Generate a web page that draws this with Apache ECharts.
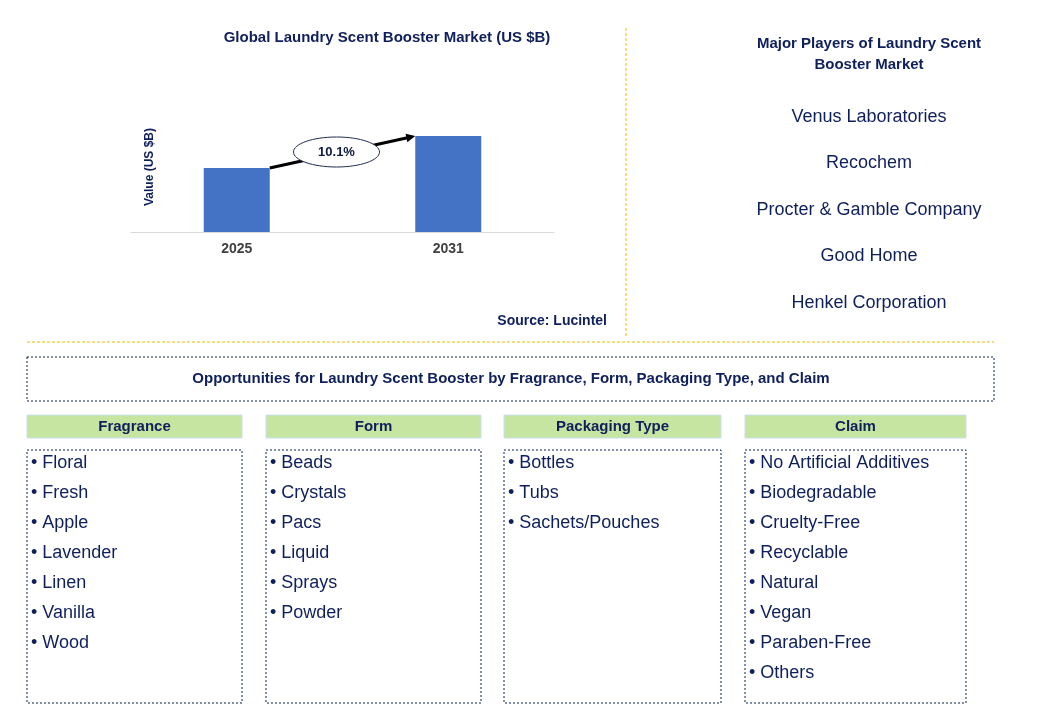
<!DOCTYPE html>
<html>
<head>
<meta charset="utf-8">
<script src="https://cdn.jsdelivr.net/npm/echarts@6/dist/echarts.min.js"></script>
<style>html,body{margin:0;padding:0;background:#fff}#main{width:1046px;height:714px}</style>
</head>
<body>
<div id="main"></div>
<script>
// chart data
var years = ['2025', '2031']
var marketValues = [2.0, 3.0]
var cagrLabel = '10.1%'
var players = ['Venus Laboratories', 'Recochem', 'Procter & Gamble Company', 'Good Home', 'Henkel Corporation']
var segmentTitles = ['Fragrance', 'Form', 'Packaging Type', 'Claim']
var fragranceItems = ['Floral', 'Fresh', 'Apple', 'Lavender', 'Linen', 'Vanilla', 'Wood']
var formItems = ['Beads', 'Crystals', 'Pacs', 'Liquid', 'Sprays', 'Powder']
var packagingItems = ['Bottles', 'Tubs', 'Sachets/Pouches']
var claimItems = ['No Artificial Additives', 'Biodegradable', 'Cruelty-Free', 'Recyclable', 'Natural', 'Vegan', 'Paraben-Free', 'Others']

var navy = '#0f1f5c'
var font = 'Arial, "Liberation Sans", sans-serif'
var chart = echarts.init(document.getElementById('main'))

var option = {
  animation: false,
  grid: { left: 131, width: 423, top: 136, height: 96 },
  xAxis: {
    type: 'category', data: years,
    axisLine: { lineStyle: { color: '#d9d9d9' } },
    axisTick: { show: false },
    axisLabel: { color: '#404040', fontWeight: 'bold', fontSize: 14, fontFamily: font, margin: 10 }
  },
  yAxis: { type: 'value', min: 0, max: 3.0, show: false },
  series: [{ type: 'bar', data: marketValues, barWidth: 66, itemStyle: { color: '#4472c4' } }],
  graphic: []
}
chart.setOption(option)

var g = []
function txt(x, y, s, size, bold, align, color) {
  g.push({ type: 'text', x: x, y: y, style: { text: s, fill: color || navy, font: (bold ? 'bold ' : '') + size + 'px ' + font, textAlign: align || 'left', textVerticalAlign: 'middle' } })
}
function dashRect(x, y, w, h) {
  g.push({ type: 'rect', shape: { x: x, y: y, width: w, height: h }, style: { fill: 'none', stroke: navy, lineWidth: 1, lineDash: [2, 2] } })
}

txt(387, 38, 'Global Laundry Scent Booster Market (US $B)', 15, true, 'center')
g.push({ type: 'text', x: 150, y: 167, rotation: Math.PI / 2, style: { text: 'Value (US $B)', fill: navy, font: 'bold 12px ' + font, textAlign: 'center', textVerticalAlign: 'middle' } })
txt(607, 321, 'Source: Lucintel', 14, true, 'right')

// arrow from top of first bar to top of second bar
var p1 = chart.convertToPixel({ seriesIndex: 0 }, [0, marketValues[0]])
var p2 = chart.convertToPixel({ seriesIndex: 0 }, [1, marketValues[1]])
var x1 = p1[0] + 33, y1 = p1[1], x2 = p2[0] - 33, y2 = p2[1]
var ang = Math.atan2(y2 - y1, x2 - x1)
g.push({ type: 'line', shape: { x1: x1, y1: y1, x2: x2 - 8 * Math.cos(ang), y2: y2 - 8 * Math.sin(ang) }, style: { stroke: '#000', lineWidth: 3 } })
g.push({ type: 'polygon', shape: { points: [[x2, y2], [x2 - 10 * Math.cos(ang - 0.45), y2 - 10 * Math.sin(ang - 0.45)], [x2 - 10 * Math.cos(ang + 0.45), y2 - 10 * Math.sin(ang + 0.45)]] }, style: { fill: '#000' } })
var mx = (x1 + x2) / 2 - 6, my = (y1 + y2) / 2
g.push({ type: 'ellipse', shape: { cx: mx, cy: my, rx: 43, ry: 15 }, style: { fill: '#fff', stroke: '#1f2d4f', lineWidth: 1 } })
txt(mx, my, cagrLabel, 13, true, 'center', '#0d1a3d')

// separators
g.push({ type: 'line', shape: { x1: 626, y1: 28, x2: 626, y2: 336 }, style: { stroke: '#f5b800', lineWidth: 1, lineDash: [3, 2] } })
g.push({ type: 'line', shape: { x1: 27, y1: 342, x2: 994, y2: 342 }, style: { stroke: '#f5b800', lineWidth: 1, lineDash: [3, 2] } })

// players
txt(869, 44, 'Major Players of Laundry Scent', 15, true, 'center')
txt(869, 65, 'Booster Market', 15, true, 'center')
players.forEach(function (p, i) { txt(869, 117 + i * 46.5, p, 18, false, 'center') })

// opportunities
dashRect(27, 357, 967, 44)
txt(511, 379, 'Opportunities for Laundry Scent Booster by Fragrance, Form, Packaging Type, and Claim', 15, true, 'center')
var lists = [fragranceItems, formItems, packagingItems, claimItems]
var colX = [27, 266, 504, 745]
var colW = [215, 215, 217, 221]
segmentTitles.forEach(function (t, i) {
  g.push({ type: 'rect', shape: { x: colX[i], y: 415, width: colW[i], height: 23 }, style: { fill: '#c6e5a0', stroke: '#c9dff2', lineWidth: 1 } })
  txt(colX[i] + colW[i] / 2, 426.5, t, 15, true, 'center')
  dashRect(colX[i], 450, colW[i], 253)
  lists[i].forEach(function (it, j) { txt(colX[i] + 4, 463 + j * 30, '\u2022 ' + it, 18, false, 'left') })
})

chart.setOption({ graphic: g })
</script>
</body>
</html>
